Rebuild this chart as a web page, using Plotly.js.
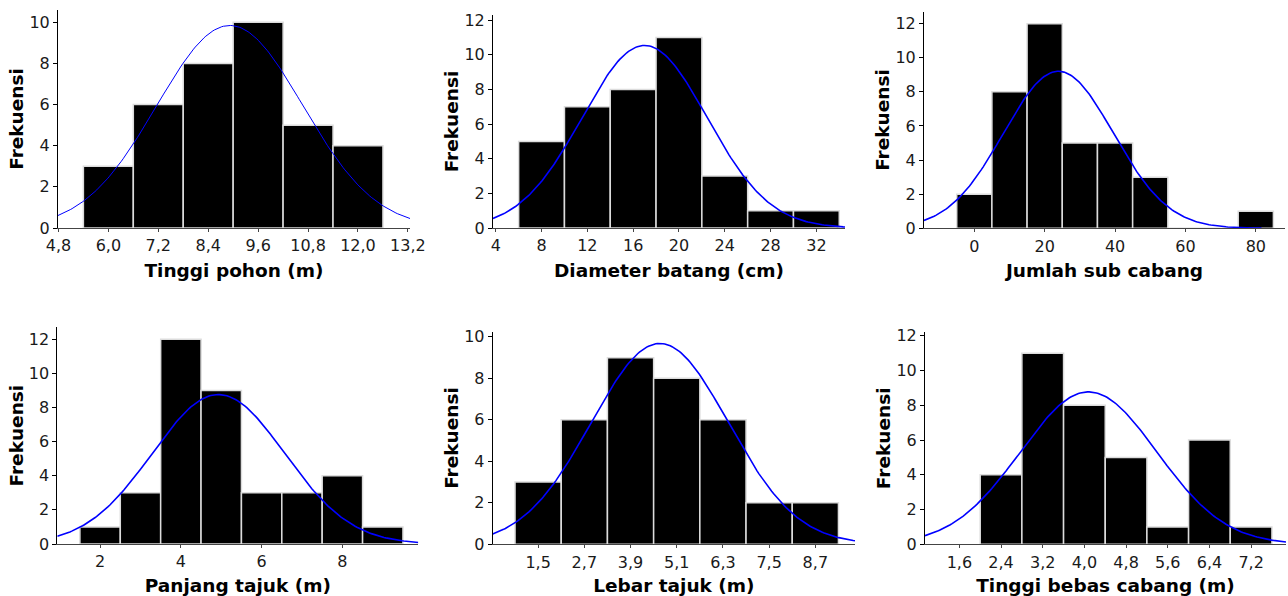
<!DOCTYPE html>
<html>
<head>
<meta charset="utf-8">
<script src="https://cdn.plot.ly/plotly-3.0.1.min.js"></script>
<style>html,body{margin:0;padding:0;background:#fff}#chart{width:1288px;height:596px}</style>
</head>
<body>
<div id="chart"></div>
<script>
// ---- Data ----
// Panel 1: Tinggi pohon (m)
const p1Centers = [6.0, 7.2, 8.4, 9.6, 10.8, 12.0];
const p1Counts  = [3, 6, 8, 10, 5, 4];
const p1TickVals = [4.8, 6.0, 7.2, 8.4, 9.6, 10.8, 12.0, 13.2];
const p1TickText = ["4,8", "6,0", "7,2", "8,4", "9,6", "10,8", "12,0", "13,2"];
// Panel 2: Diameter batang (cm)
const p2Centers = [8, 12, 16, 20, 24, 28, 32];
const p2Counts  = [5, 7, 8, 11, 3, 1, 1];
const p2TickVals = [4, 8, 12, 16, 20, 24, 28, 32];
const p2TickText = ["4", "8", "12", "16", "20", "24", "28", "32"];
// Panel 3: Jumlah sub cabang
const p3Centers = [0, 10, 20, 30, 40, 50, 60, 70, 80];
const p3Counts  = [2, 8, 12, 5, 5, 3, 0, 0, 1];
const p3TickVals = [0, 20, 40, 60, 80];
const p3TickText = ["0", "20", "40", "60", "80"];
// Panel 4: Panjang tajuk (m)
const p4Centers = [2, 3, 4, 5, 6, 7, 8, 9];
const p4Counts  = [1, 3, 12, 9, 3, 3, 4, 1];
const p4TickVals = [2, 4, 6, 8];
const p4TickText = ["2", "4", "6", "8"];
// Panel 5: Lebar tajuk (m)
const p5Centers = [1.5, 2.7, 3.9, 5.1, 6.3, 7.5, 8.7];
const p5Counts  = [3, 6, 9, 8, 6, 2, 2];
const p5TickVals = [1.5, 2.7, 3.9, 5.1, 6.3, 7.5, 8.7];
const p5TickText = ["1,5", "2,7", "3,9", "5,1", "6,3", "7,5", "8,7"];
// Panel 6: Tinggi bebas cabang (m)
const p6Centers = [2.4, 3.2, 4.0, 4.8, 5.6, 6.4, 7.2];
const p6Counts  = [4, 11, 8, 5, 1, 6, 1];
const p6TickVals = [1.6, 2.4, 3.2, 4.0, 4.8, 5.6, 6.4, 7.2];
const p6TickText = ["1,6", "2,4", "3,2", "4,0", "4,8", "5,6", "6,4", "7,2"];

const xTitles = ["Tinggi pohon (m)", "Diameter batang (cm)", "Jumlah sub cabang",
                 "Panjang tajuk (m)", "Lebar tajuk (m)", "Tinggi bebas cabang (m)"];
const yTitle = "Frekuensi";
const binWidths = [1.2, 4, 10, 1, 1.2, 0.8];
// fitted normal curve parameters (mean, standard deviation)
const fitMean = [8.92, 17.0, 23.9, 4.93, 4.66, 4.08];
const fitSd   = [1.75, 5.45, 15.6, 1.64, 1.78, 1.31];

// ---- Layout (pixel boxes of each plot area) ----
const W = 1288, H = 596;
const boxes = [
  {x0: 58,    x1: 410,  y0: 10,    y1: 228},
  {x0: 493,   x1: 845,  y0: 15,    y1: 228},
  {x0: 924,   x1: 1285, y0: 11.7,  y1: 228.3},
  {x0: 57.3,  x1: 418.3,y0: 327.3, y1: 544},
  {x0: 492.7, x1: 855,  y0: 331.7, y1: 544.3},
  {x0: 925,   x1: 1286, y0: 332.3, y1: 544.3}
];
const xRanges = [[4.79, 13.25], [3.76, 34.5], [-14.3, 88.3], [0.94, 9.88], [0.32, 9.73], [0.94, 7.87]];
const yRanges = [[0, 10.6], [0, 12.3], [0, 12.7], [0, 12.7], [0, 10.25], [0, 12.2]];
const curveEnds = [13.25, 34.5, 81.6, 9.88, 9.73, 7.87];

const centers = [p1Centers, p2Centers, p3Centers, p4Centers, p5Centers, p6Centers];
const counts  = [p1Counts, p2Counts, p3Counts, p4Counts, p5Counts, p6Counts];
const tickVals = [p1TickVals, p2TickVals, p3TickVals, p4TickVals, p5TickVals, p6TickVals];
const tickText = [p1TickText, p2TickText, p3TickText, p4TickText, p5TickText, p6TickText];

const tickFont = {family: "DejaVu Sans", size: 16, color: "#1a1a1a"};
const titleFont = {family: "DejaVu Sans", size: 18.5, color: "#000", weight: "bold"};

const traces = [];
const layout = {
  width: W, height: H,
  margin: {l: 0, r: 0, t: 0, b: 0},
  paper_bgcolor: "#fff", plot_bgcolor: "#fff",
  showlegend: false,
  font: tickFont
};

for (let i = 0; i < 6; i++) {
  const n = i + 1;
  const xa = n === 1 ? "x" : "x" + n;
  const ya = n === 1 ? "y" : "y" + n;
  const b = boxes[i];
  traces.push({
    type: "bar", x: centers[i], y: counts[i], width: binWidths[i],
    xaxis: xa, yaxis: ya,
    marker: {color: "#000", line: {color: "#dcdcdc", width: 1.5}},
    hoverinfo: "x+y"
  });
  const total = counts[i].reduce((a, c) => a + c, 0);
  const amp = total * binWidths[i] / (fitSd[i] * Math.sqrt(2 * Math.PI));
  const cx = [], cy = [];
  const x0 = xRanges[i][0], x1 = curveEnds[i];
  const steps = 200;
  for (let k = 0; k <= steps; k++) {
    const x = x0 + (x1 - x0) * k / steps;
    const z = (x - fitMean[i]) / fitSd[i];
    cx.push(x); cy.push(amp * Math.exp(-0.5 * z * z));
  }
  traces.push({
    type: "scatter", mode: "lines", x: cx, y: cy, xaxis: xa, yaxis: ya,
    line: {color: "#0000ff", width: i === 0 ? 1 : 1.6}, hoverinfo: "skip"
  });
  const xk = n === 1 ? "xaxis" : "xaxis" + n;
  const yk = n === 1 ? "yaxis" : "yaxis" + n;
  layout[xk] = {
    domain: [b.x0 / W, b.x1 / W], anchor: ya, range: xRanges[i],
    tickmode: "array", tickvals: tickVals[i], ticktext: tickText[i],
    ticks: "outside", ticklen: 3, tickcolor: "#444", tickwidth: 1,
    showline: true, linecolor: "#444", linewidth: 1,
    showgrid: false, zeroline: false, tickfont: tickFont,
    title: {text: xTitles[i], font: titleFont, standoff: 9},
    fixedrange: true
  };
  layout[yk] = {
    domain: [1 - b.y1 / H, 1 - b.y0 / H], anchor: xa, range: yRanges[i],
    tickmode: "linear", tick0: 0, dtick: 2,
    ticks: "outside", ticklen: 4, tickcolor: "#000", tickwidth: 1,
    showline: true, linecolor: "#000", linewidth: 1,
    showgrid: false, zeroline: false, tickfont: tickFont,
    title: {text: yTitle, font: titleFont, standoff: 0},
    fixedrange: true
  };
}

Plotly.newPlot("chart", traces, layout, {displayModeBar: false, staticPlot: true});
</script>
</body>
</html>
